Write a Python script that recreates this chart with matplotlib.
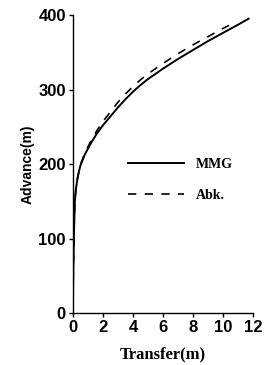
import numpy as np
import matplotlib.pyplot as plt

# MMG and Abkowitz model: advance vs transfer (m)
mmg_transfer = [0, 0.03, 0.07, 0.13, 0.2, 0.3, 0.4, 0.5, 0.8, 1.2, 1.6, 2.0, 2.5, 3.0, 3.5, 4.0,
                4.5, 5.0, 6.0, 7.0, 8.0, 9.0, 10.0, 11.0, 11.7]
mmg_advance = [0, 60, 107, 150, 166, 180, 190, 198, 213, 228, 241, 252, 264, 276, 287, 297,
               306, 314, 328, 341, 353, 365, 376, 387, 395]

abk_transfer = [0, 0.03, 0.07, 0.13, 0.2, 0.3, 0.4, 0.5, 0.8, 1.2, 1.6, 2.0, 2.5, 3.0, 3.5, 4.0,
                4.5, 5.0, 6.0, 7.0, 8.0, 9.0, 10.0, 10.9]
abk_advance = [0, 60, 107, 150, 166, 180, 190, 199, 215, 231, 245, 257, 270, 283, 294, 304,
               313, 321, 335, 348, 360, 371, 382, 391]

xticks = [0, 2, 4, 6, 8, 10, 12]
yticks = [0, 100, 200, 300, 400]

fig = plt.figure(figsize=(2.67, 3.65), dpi=100)
ax = fig.add_axes([0.273, 0.142, 0.675, 0.817])

ax.plot(mmg_transfer, mmg_advance, color='black', lw=1.4, label='MMG')
ax.plot(abk_transfer, abk_advance, color='black', lw=1.2, ls=(0, (5, 5)), label='Abk.')

ax.set_xlim(0, 12)
ax.set_ylim(0, 400)
ax.set_xticks(xticks)
ax.set_yticks(yticks)
for s in ['top', 'right']:
    ax.spines[s].set_visible(False)
for s in ['left', 'bottom']:
    ax.spines[s].set_linewidth(1.0)
ax.tick_params(direction='out', length=3, width=1, pad=2)
for lbl in ax.get_xticklabels() + ax.get_yticklabels():
    lbl.set_fontfamily('Liberation Sans')
    lbl.set_fontweight('bold')
    lbl.set_fontsize(12)

ax.set_xlabel('Transfer(m)', family='Liberation Serif', weight='bold', fontsize=12, labelpad=8)
ax.set_ylabel('Advance(m)', family='Liberation Sans', weight='bold', fontsize=10, labelpad=3)

leg = ax.legend(loc='upper left', bbox_to_anchor=(0.237, 0.563), frameon=False,
                handlelength=4.0, handletextpad=0.9, labelspacing=1.3,
                prop={'family': 'Liberation Serif', 'weight': 'bold', 'size': 10})

fig.savefig('out.png', dpi=100)
